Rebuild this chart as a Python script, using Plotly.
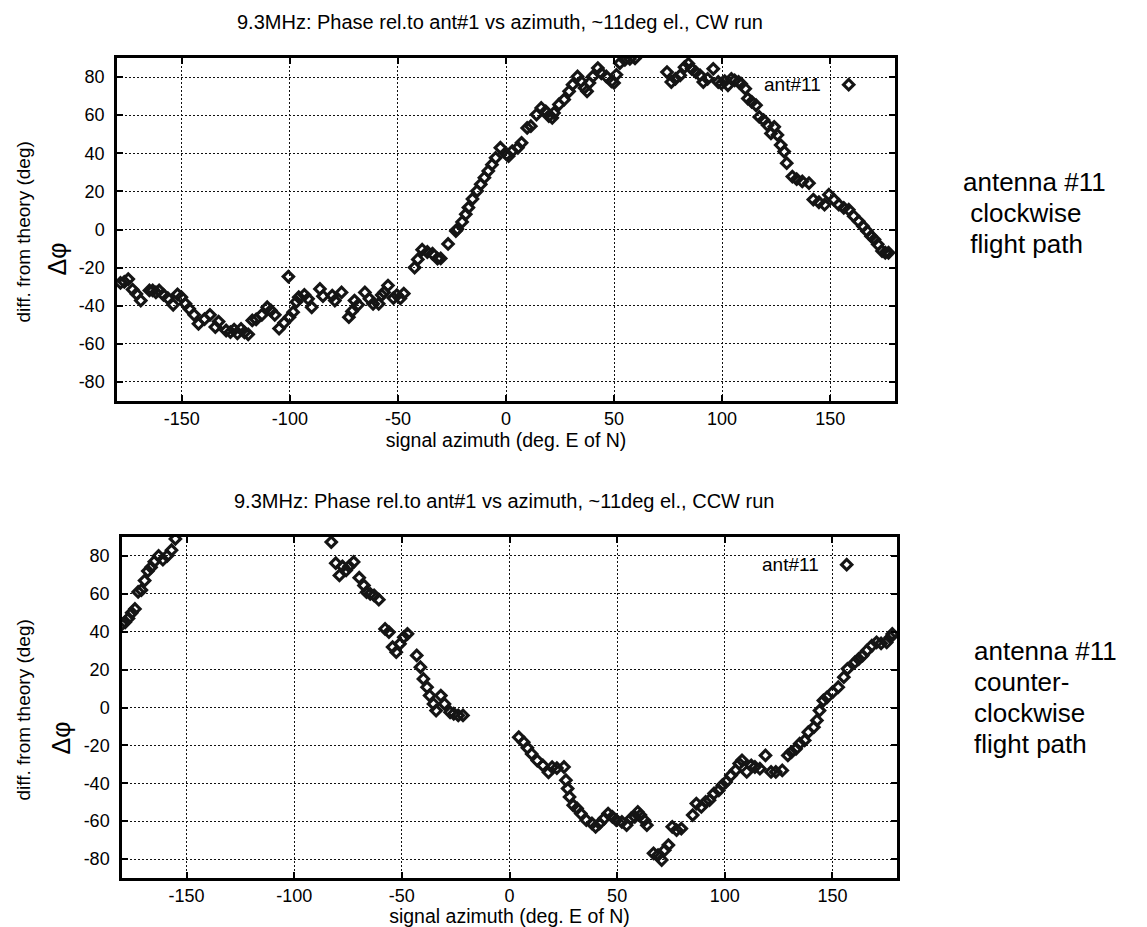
import plotly.graph_objects as go

# ---------------- data ----------------
cw_azimuth = [-178.4, -176.6, -174.8, -172.8, -171.0, -169.0, -165.0, -163.5, -162.0, -160.5,
              -158.5, -156.5, -154.0, -152.0, -150.2, -148.3, -146.6, -144.3, -142.3, -139.5,
              -137.0, -134.5, -133.0, -129.5, -127.5, -125.8, -124.3, -122.6, -121.0, -119.3,
              -117.4, -115.6, -113.0, -110.5, -108.8, -107.0, -105.0, -102.7, -100.7, -100.2,
              -98.5, -97.0, -95.9, -93.3, -91.6, -89.9, -86.1, -84.7, -80.4, -79.2,
              -76.1, -72.7, -71.3, -70.1, -68.4, -65.3, -63.2, -61.5, -58.9, -57.5,
              -56.4, -54.6, -52.1, -50.5, -48.9, -47.3,
              -42.3, -40.8, -38.8, -36.4, -34.0, -31.7, -30.2, -26.8, -23.2, -22.5,
              -20.3, -18.6, -17.4, -15.5, -13.4, -11.7, -10.0, -8.2, -6.5, -4.8, -2.6,
              0.3, 1.2, 2.9, 5.5, 7.2, 9.8, 11.5, 14.1, 16.3, 18.4, 19.8, 21.4, 22.2,
              24.5, 26.9, 29.2, 30.8, 33.1, 34.7, 36.3, 37.5, 38.6, 40.2, 42.5, 44.1,
              46.4, 48.8, 50.0, 51.1, 52.7, 55.0, 57.3, 59.7,
              74.5, 76.5, 78.4, 80.6, 82.6, 84.4, 85.9, 87.8, 89.8, 91.3, 93.3, 95.9,
              98.2, 99.7, 101.2, 102.7, 104.3, 105.8, 107.6, 108.8, 110.7, 111.9, 113.7,
              115.7, 117.2, 119.2, 121.0, 122.6, 124.1, 125.6, 127.1, 128.7, 129.9,
              132.5, 134.5, 137.1, 140.2, 142.2, 144.8, 147.4, 149.4, 151.7, 154.0,
              156.3, 158.6, 160.9, 163.2, 165.2, 167.1, 168.9, 170.5, 172.0, 174.0,
              175.5, 177.0]
cw_phase = [-28.0, -27.5, -26.0, -31.5, -33.8, -37.3, -32.0, -32.0, -33.0, -32.0,
            -34.3, -36.0, -39.5, -34.0, -35.5, -39.0, -41.6, -44.8, -49.5, -47.0,
            -44.8, -51.2, -48.3, -53.0, -53.8, -52.5, -54.5, -52.2, -54.0, -55.0,
            -47.7, -47.2, -44.8, -40.8, -42.5, -44.8, -52.0, -49.0, -24.7, -46.0,
            -43.4, -38.0, -35.5, -34.3, -36.4, -40.8, -31.2, -35.0, -34.7, -37.3,
            -33.0, -46.0, -43.0, -37.3, -39.5, -33.0, -36.4, -39.0, -39.0, -34.4,
            -33.0, -29.4, -36.0, -34.4, -36.2, -33.6,
            -20.0, -15.7, -10.6, -11.8, -12.7, -15.3, -15.2, -7.6, -0.8, 0.2,
            4.0, 8.0, 11.5, 16.0, 20.2, 23.7, 27.2, 30.7, 34.0, 37.6, 42.9,
            39.4, 38.5, 41.1, 42.9, 45.5, 53.3, 54.2, 60.3, 63.8, 62.0, 59.5, 58.6, 61.2,
            65.6, 68.2, 72.5, 76.0, 80.3, 77.7, 74.3, 72.5, 76.9, 80.3, 84.7, 82.0,
            80.3, 77.7, 76.9, 81.2, 87.3, 89.0, 89.5, 89.8,
            82.6, 77.4, 79.1, 80.9, 85.2, 87.0, 84.3, 82.6, 80.9, 77.4, 79.1, 84.3,
            77.4, 76.5, 77.9, 75.7, 79.1, 78.3, 77.4, 76.5, 73.9, 68.7, 67.0,
            65.2, 59.1, 57.4, 54.8, 50.4, 53.9, 49.6, 44.3, 40.9, 34.8,
            27.8, 26.4, 25.2, 24.3, 15.7, 14.3, 13.0, 18.3, 15.7, 13.0,
            11.3, 10.4, 7.0, 4.3, 1.7, -0.9, -3.5, -5.2, -7.8, -11.3,
            -12.2, -12.2]

ccw_azimuth = [-180.0, -178.5, -177.0, -175.5, -174.0, -172.5, -171.0, -169.5, -168.0, -166.5,
               -165.0, -163.0, -161.0, -159.0, -157.0, -155.2,
               -82.8, -80.7, -79.0, -77.6, -75.9, -74.5, -72.4, -69.8, -67.6, -66.4,
               -64.7, -62.9, -60.7, -57.8, -56.0, -54.3, -52.6, -50.9, -49.1, -47.4,
               -43.1, -41.4, -40.0, -38.3, -37.1, -35.3, -34.1, -31.9, -30.2, -27.6,
               -25.9, -23.8, -21.6,
               4.3, 6.6, 8.3, 10.3, 12.9, 15.5, 18.1, 19.8, 22.0, 25.3, 26.2, 27.0,
               27.9, 29.6, 31.4, 33.1, 35.7, 38.3, 40.0, 41.8, 44.0, 45.8, 47.8, 49.6,
               52.2, 54.4, 56.5, 58.2, 59.6, 60.8, 62.6, 63.8, 66.9, 69.0, 70.7, 72.1,
               73.8, 75.6, 77.6, 79.8, 85.1, 86.8, 89.1, 91.1, 92.9, 95.0, 97.2, 98.9,
               100.6, 102.9, 105.0, 106.7, 108.0, 110.2, 112.3, 114.0, 116.3, 118.9,
               121.5, 123.7, 126.7, 129.3, 131.0, 133.1, 134.8, 137.1, 138.8, 141.4,
               142.8, 144.0, 145.8, 147.5, 150.1, 152.7, 155.3, 157.0, 160.5, 162.2,
               164.0, 166.0, 168.3, 170.5, 172.6, 175.2, 176.9, 177.8]
ccw_phase = [44.0, 45.0, 47.0, 50.0, 52.0, 61.0, 62.0, 67.0, 72.0, 74.0,
             77.0, 80.0, 78.0, 80.0, 83.0, 89.0,
             87.3, 76.2, 69.7, 74.5, 72.4, 74.5, 76.8, 68.5, 64.4, 60.9,
             60.0, 59.2, 56.9, 41.5, 39.8, 31.9, 29.2, 33.6, 37.1, 38.9,
             27.5, 21.3, 15.1, 10.7, 6.3, 1.9, -1.6, 6.3, 1.9, -2.5,
             -3.3, -4.2, -4.2,
             -15.7, -18.3, -21.3, -24.5, -28.0, -30.6, -34.2, -31.5, -32.0, -31.4, -38.4, -42.8,
             -47.2, -51.6, -53.3, -56.0, -59.5, -61.2, -63.0, -61.2, -58.6, -56.0, -57.7, -59.5,
             -60.4, -62.1, -58.6, -57.7, -55.1, -56.8, -59.5, -62.1, -77.0, -77.9, -80.5, -75.3,
             -72.6, -63.0, -64.7, -63.9, -56.8, -50.7, -52.5, -49.8, -48.9, -45.4, -43.7, -41.0,
             -39.3, -35.8, -33.2, -29.6, -27.9, -34.0, -30.5, -31.4, -32.3, -25.3,
             -34.0, -34.0, -33.2, -25.3, -23.5, -21.8, -19.1, -17.4, -13.0, -10.4,
             -6.8, -1.6, 3.7, 5.4, 8.1, 10.7, 16.0, 20.4, 23.9, 25.6,
             27.4, 30.0, 32.6, 34.4, 33.9, 34.4, 37.0, 38.8]

x_tick_vals = [-150, -100, -50, 0, 50, 100, 150]
x_tick_text = ["-150", "-100", "-50", "0", "50", "100", "150"]
y_tick_vals = [-80, -60, -40, -20, 0, 20, 40, 60, 80]
y_tick_text = ["-80", "-60", "-40", "-20", "0", "20", "40", "60", "80"]

titles = ["9.3MHz: Phase rel.to ant#1 vs azimuth, ~11deg el., CW run",
          "9.3MHz: Phase rel.to ant#1 vs azimuth, ~11deg el., CCW run"]
x_title = "signal azimuth (deg. E of N)"
y_title = "diff. from theory (deg)"
y_symbol = "\u0394\u03c6"
legend_label = "ant#11"
side_notes_top = ["antenna #11", "\u00a0clockwise", "\u00a0flight path"]
side_notes_bottom = ["antenna #11", "counter-", "clockwise", "flight path"]

# ---------------- figure ----------------
W, H = 1147, 927
FONT = "Liberation Sans, Arial, Helvetica, sans-serif"

def px_x(p):
    return p / W

def px_y(p):
    return 1 - p / H

fig = go.Figure()

marker = dict(symbol="diamond-open", size=8, color="#151515", line=dict(width=3.1, color="#151515"))

fig.add_trace(go.Scatter(x=cw_azimuth, y=cw_phase, mode="markers", marker=marker,
                         name="", showlegend=True, legend="legend", xaxis="x", yaxis="y"))
fig.add_trace(go.Scatter(x=ccw_azimuth, y=ccw_phase, mode="markers", marker=marker,
                         name="", showlegend=True, legend="legend2", xaxis="x2", yaxis="y2"))

# plot areas (pixels)
top_box = (117, 895, 58, 401)
bot_box = (122, 897, 537, 878)

GRID_DASH = "2px,2px"

def xaxis(box, anchor):
    return dict(domain=[px_x(box[0]), px_x(box[1])], anchor=anchor, range=[-180, 180],
                tickmode="array", tickvals=x_tick_vals, ticktext=x_tick_text,
                showgrid=True, gridcolor="#111", griddash=GRID_DASH, gridwidth=1.4,
                showline=True, linecolor="black", linewidth=2.5, mirror="allticks",
                ticks="inside", ticklen=6, tickwidth=2, tickcolor="black",
                tickfont=dict(family=FONT, size=18, color="black"), zeroline=False,
                title=dict(text=x_title, font=dict(family=FONT, size=19.5, color="black"), standoff=2),
                fixedrange=True)

def yaxis(box, anchor):
    return dict(domain=[px_y(box[3]), px_y(box[2])], anchor=anchor, range=[-90, 90],
                tickmode="array", tickvals=y_tick_vals, ticktext=y_tick_text,
                showgrid=True, gridcolor="#111", griddash=GRID_DASH, gridwidth=1.4,
                showline=True, linecolor="black", linewidth=2.5, mirror="allticks",
                ticks="inside", ticklen=6, tickwidth=2, tickcolor="black",
                tickfont=dict(family=FONT, size=18, color="black"), zeroline=False,
                ticklabelstandoff=6, fixedrange=True)

annotations = []
for box, title, notes, note_x, note_y0, ysym_x in [
        (top_box, titles[0], side_notes_top, 962, 182, 57),
        (bot_box, titles[1], side_notes_bottom, 973, 651, 60)]:
    cx = (box[0] + box[1]) / 2
    cy = (box[2] + box[3]) / 2
    annotations.append(dict(text=title, x=px_x(cx - 6), y=px_y(box[2] - 36), xref="paper", yref="paper",
                            showarrow=False, xanchor="center", yanchor="middle",
                            font=dict(family=FONT, size=20, color="black")))
    annotations.append(dict(text=y_title, x=px_x(23), y=px_y(cy + 3), xref="paper", yref="paper",
                            showarrow=False, textangle=-90, xanchor="center", yanchor="middle",
                            font=dict(family=FONT, size=19, color="black")))
    annotations.append(dict(text=y_symbol, x=px_x(ysym_x), y=px_y(cy + 30), xref="paper", yref="paper",
                            showarrow=False, textangle=-90, xanchor="center", yanchor="middle",
                            font=dict(family=FONT, size=25, color="black")))
    for k, line in enumerate(notes):
        annotations.append(dict(text=line, x=px_x(note_x), y=px_y(note_y0 + 31 * k), xref="paper", yref="paper",
                                showarrow=False, align="left", xanchor="left", yanchor="middle",
                                borderpad=0,
                                font=dict(family=FONT, size=26, color="black")))

legend_common = dict(bgcolor="rgba(0,0,0,0)", borderwidth=0, xanchor="left", yanchor="middle",
                     font=dict(family=FONT, size=18, color="black"),
                     title=dict(text=legend_label, side="left", font=dict(family=FONT, size=19, color="black")))

fig.update_layout(
    width=W, height=H, margin=dict(l=0, r=0, t=0, b=0),
    paper_bgcolor="white", plot_bgcolor="white",
    xaxis=xaxis(top_box, "y"), yaxis=yaxis(top_box, "x"),
    xaxis2=xaxis(bot_box, "y2"), yaxis2=yaxis(bot_box, "x2"),
    legend=dict(**legend_common, x=px_x(762), y=px_y(85)),
    legend2=dict(**legend_common, x=px_x(760), y=px_y(565)),
    annotations=annotations,
    font=dict(family=FONT, color="black"),
)

fig.write_html("out.html")
